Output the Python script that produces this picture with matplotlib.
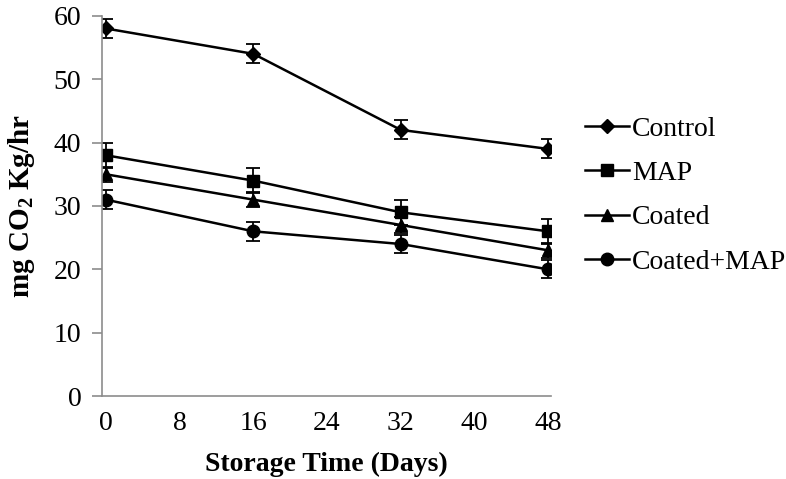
import matplotlib
matplotlib.use("Agg")
import matplotlib.pyplot as plt

plt.rcParams["font.family"] = ["Liberation Serif", "DejaVu Serif"]
plt.rcParams["mathtext.fontset"] = "custom"
plt.rcParams["mathtext.rm"] = "Liberation Serif:bold"
plt.rcParams["mathtext.default"] = "rm"

# Storage days
days = [0, 16, 32, 48]

# Respiration rate (mg CO2 / kg / hr)
control = [58, 54, 42, 39]
map_pack = [38, 34, 29, 26]
coated = [35, 31, 27, 23]
coated_map = [31, 26, 24, 20]

# Error bar half-widths
control_err = [1.5, 1.5, 1.5, 1.5]
map_err = [2.0, 2.0, 2.0, 2.0]
coated_err = [1.2, 1.2, 1.2, 1.2]
coated_map_err = [1.5, 1.5, 1.4, 1.4]

labels = ["Control", "MAP", "Coated", "Coated+MAP"]
xticks = [0, 8, 16, 24, 32, 40, 48]
yticks = [0, 10, 20, 30, 40, 50, 60]

series = [
    (control, control_err, "D", 7),
    (map_pack, map_err, "s", 8),
    (coated, coated_err, "^", 8),
    (coated_map, coated_map_err, "o", 9),
]

fs = 20

fig = plt.figure(figsize=(7.86, 4.79), dpi=100)
ax = fig.add_axes([0.130, 0.173, 0.571, 0.794])

for (vals, err, marker, ms), label in zip(series, labels):
    ax.errorbar(days, vals, yerr=err, fmt="none", ecolor="black",
                elinewidth=1.3, capsize=5, capthick=1.3)
    ax.plot(days, vals, color="black", linewidth=1.8, marker=marker,
            markersize=ms, label=label)

ax.set_xlim(-0.4, 48.3)
ax.set_ylim(0, 60)
ax.set_xticks(xticks)
ax.set_yticks(yticks)

for side in ["top", "right"]:
    ax.spines[side].set_visible(False)
for side in ["left", "bottom"]:
    ax.spines[side].set_color("#8c8c8c")
    ax.spines[side].set_linewidth(1.2)

ax.tick_params(axis="y", length=7, width=1.2, color="#8c8c8c",
               labelsize=fs, pad=8)
ax.tick_params(axis="x", length=0, labelsize=fs, pad=11)

ax.set_xlabel("Storage Time (Days)", fontsize=fs, fontweight="bold",
              labelpad=11)
ax.set_ylabel(r"mg CO$_2$ Kg/hr", fontsize=21, fontweight="bold",
              labelpad=12)

ax.legend(loc="upper left", bbox_to_anchor=(1.05, 0.765), frameon=False,
          fontsize=fs, handlelength=1.6, handletextpad=0.1,
          labelspacing=0.68, borderaxespad=0)

plt.savefig("out.png", dpi=100)
plt.close()
